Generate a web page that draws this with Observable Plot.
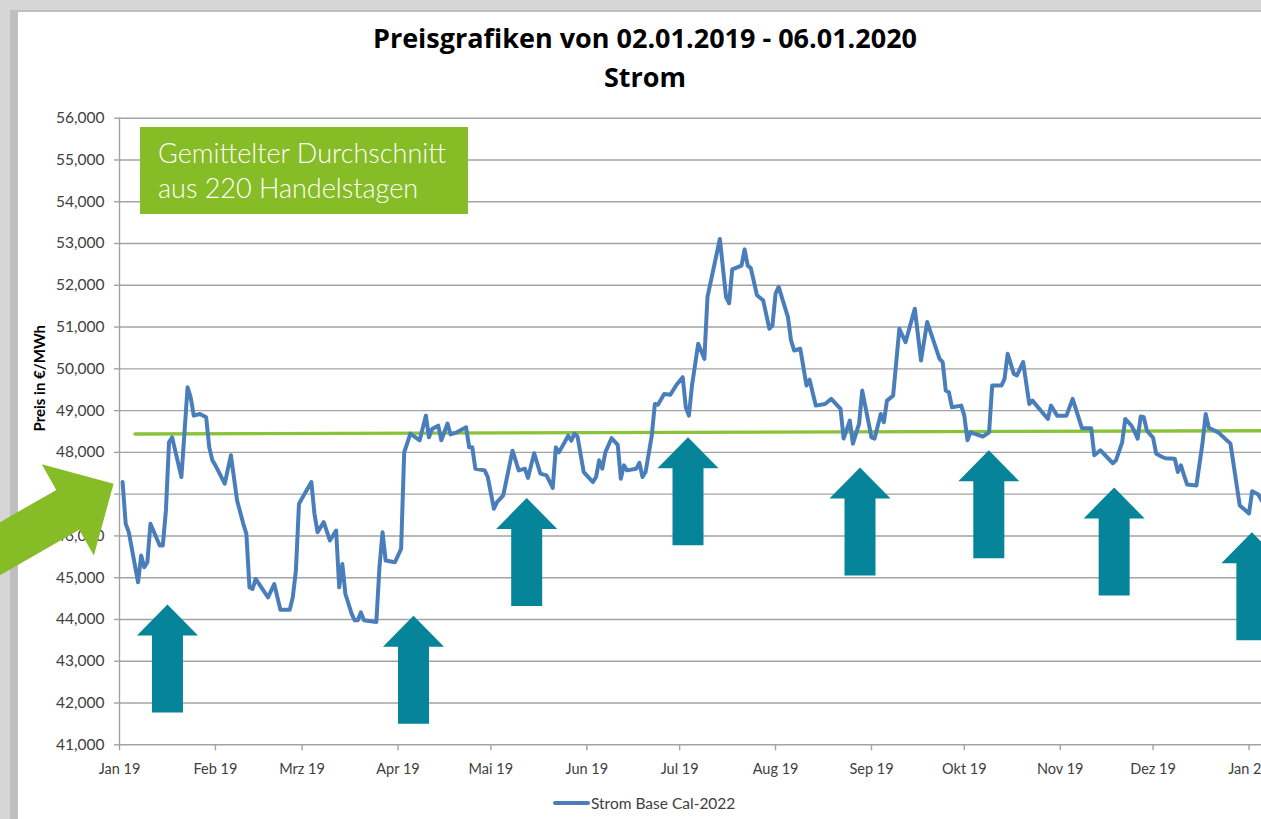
<!DOCTYPE html>
<html>
<head>
<meta charset="utf-8">
<script src="https://cdn.jsdelivr.net/npm/d3@7"></script>
<script src="https://cdn.jsdelivr.net/npm/@observablehq/plot@0.6"></script>
<style>
  html, body { margin: 0; padding: 0; }
  body { width: 1261px; height: 819px; overflow: hidden; position: relative; background: #d6d6d6; font-family: Lato, "Open Sans", sans-serif; }
  #panel { position: absolute; left: 18px; top: 12px; width: 1300px; height: 900px; background: #ffffff; }
  #stripe { position: absolute; left: 10px; top: 10px; width: 8px; height: 900px; background: #bfbfbf; }
  #topline { position: absolute; left: 10px; top: 10px; width: 1300px; height: 2px; background: #bfbfbf; }
  #title { position: absolute; left: 0; width: 1290px; top: 24px; text-align: center; font-family: "Open Sans", sans-serif; font-weight: bold; font-size: 27px; line-height: 27px; color: #000; white-space: nowrap; }
  #subtitle { position: absolute; left: 0; width: 1290px; top: 63px; text-align: center; font-family: "Open Sans", sans-serif; font-weight: bold; font-size: 27px; line-height: 27px; color: #000; }
  #chart { position: absolute; left: 0; top: 100px; }
  #box { position: absolute; left: 140px; top: 127px; width: 328px; height: 87px; background: #86bc25; color: #fff; font-weight: 300; font-size: 27px; line-height: 35px; box-sizing: border-box; padding: 8px 0 0 18px; white-space: nowrap; }
  #legend { position: absolute; top: 794px; left: 553px; font-size: 15.5px; color: #404040; display: flex; align-items: center; white-space: nowrap; }
  #legend .sw { width: 37px; height: 4px; background: #4a7ebb; border-radius: 2px; margin-right: 1px; }
</style>
</head>
<body>
<div id="panel"></div>
<div id="stripe"></div>
<div id="topline"></div>
<div id="title">Preisgrafiken von 02.01.2019 - 06.01.2020</div>
<div id="subtitle">Strom</div>
<div id="chart"></div>
<div id="box">Gemittelter Durchschnitt<br>aus 220 Handelstagen</div>
<div id="legend"><span class="sw"></span><span id="legendText">Strom Base Cal-2022</span></div>
<script>
// ---- data ----
const dates = [
"2019-01-02","2019-01-03","2019-01-04","2019-01-07","2019-01-08","2019-01-09","2019-01-10","2019-01-11",
"2019-01-14","2019-01-15","2019-01-16","2019-01-17","2019-01-18","2019-01-21","2019-01-22","2019-01-23",
"2019-01-24","2019-01-25","2019-01-27","2019-01-29","2019-01-30","2019-01-31","2019-02-01","2019-02-04",
"2019-02-06","2019-02-08","2019-02-10","2019-02-11","2019-02-12","2019-02-13","2019-02-14","2019-02-18",
"2019-02-20","2019-02-22","2019-02-25","2019-02-26","2019-02-27","2019-02-28","2019-03-04","2019-03-05",
"2019-03-06","2019-03-08","2019-03-10","2019-03-12","2019-03-13","2019-03-14","2019-03-15","2019-03-17",
"2019-03-18","2019-03-19","2019-03-20","2019-03-21","2019-03-25","2019-03-26","2019-03-27","2019-03-28",
"2019-03-31","2019-04-02","2019-04-03","2019-04-05","2019-04-08","2019-04-10","2019-04-11","2019-04-12",
"2019-04-14","2019-04-15","2019-04-17","2019-04-18","2019-04-20","2019-04-23","2019-04-24","2019-04-25",
"2019-04-26","2019-04-29","2019-04-30","2019-05-02","2019-05-03","2019-05-05","2019-05-08","2019-05-10",
"2019-05-12","2019-05-13","2019-05-15","2019-05-17","2019-05-19","2019-05-21","2019-05-22","2019-05-23",
"2019-05-26","2019-05-27","2019-05-28","2019-05-29","2019-05-31","2019-06-03","2019-06-04","2019-06-05",
"2019-06-06","2019-06-07","2019-06-09","2019-06-11","2019-06-12","2019-06-13","2019-06-14","2019-06-17",
"2019-06-18","2019-06-19","2019-06-20","2019-06-22","2019-06-23","2019-06-24","2019-06-26","2019-06-28",
"2019-06-30","2019-07-02","2019-07-03","2019-07-04","2019-07-05","2019-07-07","2019-07-09","2019-07-10",
"2019-07-14","2019-07-16","2019-07-17","2019-07-18","2019-07-21","2019-07-22","2019-07-23","2019-07-24",
"2019-07-26","2019-07-28","2019-07-30","2019-07-31","2019-08-01","2019-08-02","2019-08-05","2019-08-06",
"2019-08-07","2019-08-09","2019-08-11","2019-08-12","2019-08-14","2019-08-17","2019-08-19","2019-08-22",
"2019-08-23","2019-08-25","2019-08-26","2019-08-28","2019-08-29","2019-09-01","2019-09-02","2019-09-04",
"2019-09-05","2019-09-06","2019-09-08","2019-09-10","2019-09-12","2019-09-15","2019-09-17","2019-09-19",
"2019-09-23","2019-09-24","2019-09-25","2019-09-26","2019-09-27","2019-09-30","2019-10-01","2019-10-02",
"2019-10-03","2019-10-07","2019-10-09","2019-10-10","2019-10-13","2019-10-14","2019-10-15","2019-10-17",
"2019-10-18","2019-10-20","2019-10-22","2019-10-23","2019-10-28","2019-10-29","2019-10-31","2019-11-03",
"2019-11-05","2019-11-08","2019-11-11","2019-11-12","2019-11-14","2019-11-18","2019-11-19","2019-11-21",
"2019-11-22","2019-11-24","2019-11-25","2019-11-26","2019-11-27","2019-11-28","2019-11-29","2019-12-01",
"2019-12-02","2019-12-04","2019-12-05","2019-12-08","2019-12-09","2019-12-10","2019-12-11","2019-12-12",
"2019-12-15","2019-12-17","2019-12-18","2019-12-19","2019-12-22","2019-12-26","2019-12-29","2020-01-01",
"2020-01-02","2020-01-04","2020-01-05","2020-01-06"
];
const prices = [
47.29,46.29,46.09,44.89,45.53,45.25,45.37,46.29,
45.77,45.77,46.61,48.24,48.36,47.41,48.48,49.56,
49.32,48.88,48.92,48.84,48.12,47.81,47.69,47.25,
47.93,46.85,46.29,46.05,44.77,44.73,44.97,44.53,
44.85,44.23,44.23,44.53,45.17,46.77,47.29,46.53,
46.09,46.33,45.89,46.13,44.77,45.33,44.61,44.14,
43.98,43.98,44.17,43.98,43.94,45.25,46.09,45.41,
45.37,45.69,48.00,48.45,48.29,48.88,48.36,48.56,
48.64,48.29,48.69,48.43,48.48,48.60,48.12,48.12,
47.61,47.57,47.41,46.65,46.81,46.97,48.04,47.57,
47.61,47.39,47.98,47.49,47.45,47.15,48.12,48.00,
48.40,48.28,48.45,48.38,47.53,47.29,47.41,47.81,
47.61,48.00,48.34,48.18,47.37,47.69,47.57,47.61,
47.75,47.41,47.53,48.40,49.16,49.14,49.40,49.38,
49.62,49.80,49.08,48.88,49.60,50.60,50.24,51.72,
53.11,51.72,51.57,52.38,52.47,52.86,52.47,52.41,
51.76,51.64,50.96,51.04,51.80,51.96,51.24,50.68,
50.44,50.48,49.60,49.74,49.12,49.16,49.28,49.04,
48.33,48.76,48.21,48.69,49.48,48.36,48.33,48.92,
48.72,49.24,49.36,50.96,50.64,51.44,50.20,51.12,
50.24,50.16,49.48,49.44,49.08,49.12,48.88,48.29,
48.48,48.38,48.48,49.60,49.60,49.76,50.36,49.88,
49.84,50.16,49.16,49.24,48.80,49.12,48.88,48.88,
49.28,48.58,48.58,47.93,48.05,47.74,47.81,48.24,
48.80,48.64,48.50,48.33,48.86,48.84,48.52,48.35,
47.97,47.89,47.86,47.85,47.53,47.69,47.45,47.23,
47.21,48.24,48.92,48.59,48.48,48.21,46.73,46.54,
47.07,46.99,46.86,46.75
];
const avgDates = ["2019-01-06", "2020-01-06"];
const avgValues = [48.44, 48.52];
const arrowDates = ["2019-01-16T12:00Z","2019-04-06T00:00Z","2019-05-12T14:00Z","2019-07-03T17:00Z",
                    "2019-08-28T07:00Z","2019-10-08T22:00Z","2019-11-18T10:00Z","2020-01-01T22:00Z"];
const arrowTips = [44.36, 44.09, 46.91, 48.36, 47.64, 48.05, 47.16, 46.09];
const yTicks = [41,42,43,44,45,46,47,48,49,50,51,52,53,54,55,56];
const monthTickDates = ["2019-01-01","2019-02-01","2019-03-01","2019-04-01","2019-05-01","2019-06-01",
                        "2019-07-01","2019-08-01","2019-09-01","2019-10-01","2019-11-01","2019-12-01","2020-01-01"];
const monthLabels = ["Jan 19","Feb 19","Mrz 19","Apr 19","Mai 19","Jun 19","Jul 19","Aug 19",
                     "Sep 19","Okt 19","Nov 19","Dez 19","Jan 20"];
const seriesName = "Strom Base Cal-2022";
const yLabel = "Preis in €/MWh";

// ---- build ----
const series = dates.map((d, i) => ({date: new Date(d), price: prices[i]}));
const avg = avgDates.map((d, i) => ({date: new Date(d), price: avgValues[i]}));
const arrows = arrowDates.map((d, i) => ({date: new Date(d), price: arrowTips[i]}));
const monthTicks = monthTickDates.map(d => new Date(d));
const fmt = d => d.toFixed(3).replace(".", ",");
document.getElementById("legendText").textContent = seriesName;

const blockArrow = {
  draw(ctx, l) {
    const hw = 30.5, hl = 31, sw = 15.5;
    ctx.moveTo(-sw, 0); ctx.lineTo(-sw, -(l - hl)); ctx.lineTo(-hw, -(l - hl));
    ctx.lineTo(0, -l); ctx.lineTo(hw, -(l - hl)); ctx.lineTo(sw, -(l - hl));
    ctx.lineTo(sw, 0); ctx.closePath();
  }
};
const bigArrow = {
  draw(ctx, l) {
    const hw = 52.5, hl = 52.8, sw = 23;
    ctx.moveTo(-sw, 0); ctx.lineTo(-sw, -(l - hl)); ctx.lineTo(-hw, -(l - hl));
    ctx.lineTo(0, -l); ctx.lineTo(hw, -(l - hl)); ctx.lineTo(sw, -(l - hl));
    ctx.lineTo(sw, 0); ctx.closePath();
  }
};

const gray = "#a3a3a3";
const chart = Plot.plot({
  width: 1264,
  height: 690,
  marginLeft: 119,
  marginRight: 0,
  marginTop: 17.7,
  marginBottom: 45.7,
  style: {background: "transparent", maxWidth: "none", overflow: "visible", fontFamily: "Lato, 'Open Sans', sans-serif", fontSize: "14px"},
  x: {type: "utc", domain: [new Date("2019-01-01"), new Date("2020-01-06")]},
  y: {domain: [41, 56]},
  marks: [
    Plot.gridY(yTicks, {stroke: gray, strokeOpacity: 1, strokeWidth: 1.4}),
    Plot.ruleX([monthTicks[0]], {stroke: gray, strokeWidth: 1.4}),
    Plot.axisY(yTicks, {tickSize: 5, tickPadding: 10, tickFormat: fmt, stroke: gray, strokeWidth: 1.4, fill: "#404040", label: null, fontSize: 15.5}),
    Plot.axisX(monthTicks, {tickSize: 6, tickPadding: 13, tickFormat: (d, i) => monthLabels[i], stroke: gray, strokeWidth: 1.4, fill: "#404040", label: null, fontSize: 14.5}),
    Plot.text([yLabel], {frameAnchor: "left", rotate: -90, dx: -79, fontWeight: "bold", fontSize: 15, fill: "#000"}),
    Plot.line(avg, {x: "date", y: "price", stroke: "#8ac23a", strokeWidth: 3.4}),
    Plot.line(series, {x: "date", y: "price", stroke: "#4a7ebb", strokeWidth: 4, strokeLinejoin: "round", strokeLinecap: "round"}),
    Plot.vector(arrows, {x: "date", y: "price", length: 108, anchor: "end", shape: blockArrow, fill: "#05849a", stroke: "none"}),
    Plot.vector(series.slice(0, 1), {x: "date", y: "price", length: 240, anchor: "end", rotate: 60.2, dx: -9, dy: 1.6, shape: bigArrow, fill: "#86bc25", stroke: "none"})
  ]
});
document.getElementById("chart").appendChild(chart);
</script>
</body>
</html>
